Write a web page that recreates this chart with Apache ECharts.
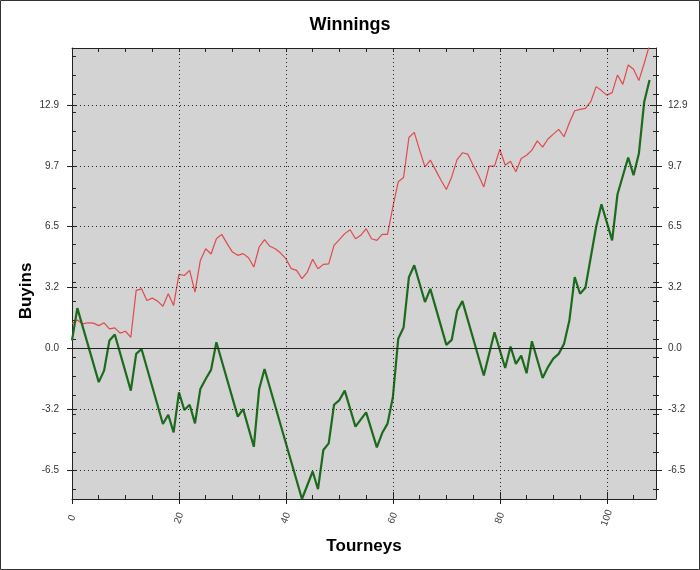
<!DOCTYPE html>
<html><head><meta charset="utf-8">
<script src="https://cdn.jsdelivr.net/npm/echarts@6/dist/echarts.min.js"></script>
<style>html,body{margin:0;padding:0;background:#fff}#c{width:700px;height:570px}</style>
</head><body><div id="c"></div>
<script>
// Red series: one value per tourney, x = index 0..108
const redValues = [
  1.3, 1.5, 1.29, 1.35, 1.33, 1.2, 1.35, 1.03, 1.08, 0.8,
  0.9, 0.58, 3.07, 3.15, 2.53, 2.66, 2.5, 2.23, 2.89, 2.27,
  3.92, 3.86, 4.13, 2.98, 4.66, 5.28, 5.0, 5.81, 6.04, 5.55,
  5.1, 4.93, 5.02, 4.8, 4.31, 5.37, 5.76, 5.41, 5.28, 5.05,
  4.75, 4.22, 4.13, 3.69, 4.04, 4.72, 4.22, 4.45, 4.48, 5.46,
  5.76, 6.08, 6.29, 5.81, 5.99, 6.34, 5.81, 5.72, 6.04, 6.04,
  7.5, 8.83, 9.06, 11.18, 11.45, 10.51, 9.62, 9.98, 9.45, 8.91,
  8.42, 9.09, 10.01, 10.37, 10.3, 9.71, 9.18, 8.56, 9.66, 9.66,
  10.56, 9.71, 9.92, 9.36, 10.07, 10.24, 10.51, 11.0, 10.67, 11.1,
  11.36, 11.61, 11.22, 11.96, 12.6, 12.67, 12.73, 13.08, 13.88, 13.67,
  13.43, 13.56, 14.5, 14.0, 15.03, 14.8, 14.2, 15.12, 16.1
];
// Green series: vertices (tourney, buyins)
const greenX = [
  0, 1, 5, 6, 7, 8, 11, 12, 13, 17, 18, 19, 20, 21, 22, 23, 24, 25, 26, 27,
  31, 32, 34, 35, 36, 43, 45, 46, 47, 48, 49, 50, 51, 53, 55, 57, 58, 59, 60, 61,
  62, 63, 64, 66, 67, 70, 71, 72, 73, 77, 79, 81, 82, 83, 84, 85, 86, 88, 89, 90,
  91, 92, 93, 94, 95, 96, 98, 99, 101, 102, 104, 105, 106, 107, 108
];
const greenValues = [
  0.41, 2.13, -1.8, -1.19, 0.41, 0.73, -2.25, -0.3, -0.04, -4.02, -3.53, -4.47, -2.34, -3.28, -3.0, -3.99, -2.16, -1.63, -1.15, 0.32,
  -3.63, -3.23, -5.23, -2.16, -1.1, -8.0, -6.54, -7.48, -5.4, -5.05, -3.0, -2.75, -2.25, -4.16, -3.4, -5.26, -4.5, -4.0, -2.6, 0.5,
  1.1, 3.77, 4.4, 2.45, 3.15, 0.18, 0.44, 1.97, 2.5, -1.45, 0.85, -1.05, 0.09, -0.83, -0.39, -1.33, 0.37, -1.58, -1.0, -0.55,
  -0.3, 0.23, 1.47, 3.77, 2.89, 3.21, 6.43, 7.64, 5.72, 8.17, 10.12, 9.18, 10.33, 13.08, 14.23
];
const xTickValues = [0, 20, 40, 60, 80, 100];
const xTickLabels = ['0', '20', '40', '60', '80', '100'];
const xMinorTicks = [5, 10, 15, 25, 30, 35, 45, 50, 55, 65, 70, 75, 85, 90, 95, 105];
const yTickValues = [-6.45, -3.225, 0, 3.225, 6.45, 9.675, 12.9];
const yTickLabels = ['-6.5', '-3.2', '0.0', '3.2', '6.5', '9.7', '12.9'];
const yMinorTicks = [-7.5, -5.5, -4.5, -3.5, -2.5, -1.5, -0.5, 0.5, 1.5, 2.5, 3.5, 4.5, 5.5,
  7.5, 8.5, 10.5, 11.5, 12.5, 13.5, 14.5, 15.5];

const X_MIN = 0, X_MAX = 109.2, Y_MIN = -8.0, Y_MAX = 15.93;
const FONT = 'Liberation Sans';
const AX = '#222';

const xAll = xTickValues.concat(xMinorTicks).sort((a, b) => a - b);
const yAll = yTickValues.concat(yMinorTicks).sort((a, b) => a - b);

function xAxisBase(extra) {
  return Object.assign({
    type: 'value', min: X_MIN, max: X_MAX, gridIndex: 0, offset: 0,
    axisLine: { show: false, onZero: false, lineStyle: { color: AX } },
    axisTick: { show: false },
    axisLabel: { show: false },
    splitLine: { show: false }
  }, extra);
}
function yAxisBase(extra) {
  return Object.assign({
    type: 'value', min: Y_MIN, max: Y_MAX, gridIndex: 0, offset: 0,
    axisLine: { show: false, onZero: false, lineStyle: { color: AX } },
    axisTick: { show: false },
    axisLabel: { show: false },
    splitLine: { show: false }
  }, extra);
}
const yLabelFmt = v => {
  const i = yTickValues.findIndex(t => Math.abs(t - v) < 1e-6);
  return i >= 0 ? yTickLabels[i] : '';
};
const xLabelFmt = v => {
  const i = xTickValues.findIndex(t => Math.abs(t - v) < 1e-6);
  return i >= 0 ? xTickLabels[i] : '';
};

const gridMarks = [];
xTickValues.filter(v => v > 0).forEach(v => gridMarks.push({ xAxis: v }));
yTickValues.filter(v => v !== 0).forEach(v => gridMarks.push({ yAxis: v }));

const chart = echarts.init(document.getElementById('c'), null, { renderer: 'canvas' });
chart.setOption({
  animation: false,
  backgroundColor: '#fff',
  title: {
    text: 'Winnings', left: 'center', top: 11,
    textStyle: { fontFamily: FONT, fontWeight: 'bold', fontSize: 18, color: '#000' }
  },
  grid: {
    left: 72, right: 44, top: 48, bottom: 71, show: true,
    backgroundColor: '#d3d3d3', borderWidth: 0
  },
  xAxis: [
    xAxisBase({
      position: 'bottom',
      axisLine: { show: true, onZero: false, lineStyle: { color: AX, width: 1 } },
      axisTick: { show: true, customValues: xTickValues, inside: false, length: 5, lineStyle: { color: AX } },
      axisLabel: {
        show: true, customValues: xTickValues, formatter: xLabelFmt,
        rotate: 70, align: 'center', verticalAlign: 'middle', margin: 19,
        fontFamily: FONT, fontSize: 10, color: '#444'
      }
    }),
    xAxisBase({ position: 'bottom',
      axisTick: { show: true, customValues: xTickValues, inside: true, length: 7, lineStyle: { color: AX } } }),
    xAxisBase({ position: 'bottom',
      axisTick: { show: true, customValues: xMinorTicks, inside: true, length: 4, lineStyle: { color: AX } } }),
    xAxisBase({ position: 'top',
      axisLine: { show: true, onZero: false, lineStyle: { color: AX, width: 1 } },
      axisTick: { show: true, customValues: xAll, inside: true, length: 4, lineStyle: { color: AX } } })
  ],
  yAxis: [
    yAxisBase({
      position: 'left',
      axisLine: { show: true, onZero: false, lineStyle: { color: AX, width: 1 } },
      axisTick: { show: true, customValues: yTickValues, inside: false, length: 5, lineStyle: { color: AX } },
      axisLabel: { show: true, customValues: yTickValues, formatter: yLabelFmt, margin: 13,
        fontFamily: FONT, fontSize: 10, color: '#333' }
    }),
    yAxisBase({ position: 'left',
      axisTick: { show: true, customValues: yTickValues, inside: true, length: 5, lineStyle: { color: AX } } }),
    yAxisBase({ position: 'left',
      axisTick: { show: true, customValues: yMinorTicks, inside: true, length: 4, lineStyle: { color: AX } } }),
    yAxisBase({
      position: 'right',
      axisLine: { show: true, onZero: false, lineStyle: { color: AX, width: 1 } },
      axisTick: { show: true, customValues: yTickValues, inside: false, length: 6, lineStyle: { color: AX } },
      axisLabel: { show: true, customValues: yTickValues, formatter: yLabelFmt, margin: 12,
        fontFamily: FONT, fontSize: 10, color: '#333' }
    }),
    yAxisBase({ position: 'right',
      axisTick: { show: true, customValues: yTickValues, inside: true, length: 6, lineStyle: { color: AX } } }),
    yAxisBase({ position: 'right',
      axisTick: { show: true, customValues: yAll, inside: true, length: 3, lineStyle: { color: AX } } }),
    yAxisBase({ position: 'right',
      axisTick: { show: true, customValues: yMinorTicks, inside: false, length: 3, lineStyle: { color: AX } } })
  ],
  series: [
    {
      type: 'line', xAxisIndex: 0, yAxisIndex: 0, z: 1, silent: true,
      data: [[0, 0]], symbol: 'none', lineStyle: { opacity: 0 },
      markLine: {
        silent: true, symbol: 'none', label: { show: false }, animation: false,
        lineStyle: { color: '#222', width: 1, type: [1, 3] },
        data: gridMarks.concat([{ yAxis: 0, lineStyle: { color: '#222', width: 1, type: 'solid' } }])
      }
    },
    {
      type: 'line', xAxisIndex: 0, yAxisIndex: 0, z: 3,
      data: redValues.map((v, i) => [i, v]),
      symbol: 'none', clip: true,
      lineStyle: { color: '#e04a4e', width: 1.2 }
    },
    {
      type: 'line', xAxisIndex: 0, yAxisIndex: 0, z: 4,
      data: greenX.map((x, i) => [x, greenValues[i]]),
      symbol: 'none', clip: true,
      lineStyle: { color: '#1c6b1c', width: 2.2 }
    }
  ],
  graphic: [
    { type: 'text', x: 26, y: 291, rotation: Math.PI / 2,
      style: { text: 'Buyins', font: 'bold 17px "Liberation Sans"', fill: '#000', align: 'center', verticalAlign: 'middle' } },
    { type: 'text', x: 364, y: 546,
      style: { text: 'Tourneys', font: 'bold 17px "Liberation Sans"', fill: '#000', align: 'center', verticalAlign: 'middle' } },
    { type: 'rect', shape: { x: 0.5, y: 0.5, width: 699, height: 569 },
      style: { fill: 'none', stroke: '#333', lineWidth: 1 }, silent: true }
  ]
});
</script>
</body></html>
